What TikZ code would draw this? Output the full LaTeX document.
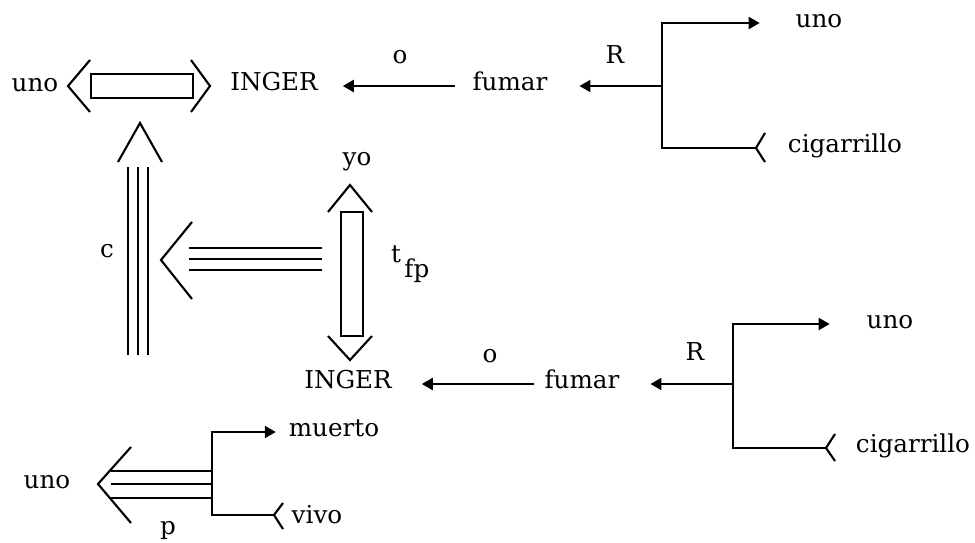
\documentclass[tikz,border=0pt]{standalone}
\usepackage{fontspec}
\setmainfont{DejaVu Serif}
\usetikzlibrary{arrows.meta}

\begin{document}
\begin{tikzpicture}[x=0.01cm,y=-0.01cm,line width=0.6pt,
  lbl/.style={inner sep=0pt,font=\fontsize{7}{8}\selectfont,text height=2.8pt,text depth=0.5pt},
  arr/.style={-{Triangle[length=1.1mm,width=1.2mm]}}]
  \useasboundingbox (0,0) rectangle (975,542);
  % upper line: uno <=> INGER <- fumar
  \node[lbl] (uno1) at (35,87) {uno};
  \node[lbl] (inger1) at (274,86) {INGER};
  \node[lbl] (o1) at (400,59) {o};
  \node[lbl] (fumar1) at (510,86) {fumar};
  \node[lbl] (r1) at (615,59) {R};
  \node[lbl] (uno2) at (819,23) {uno};
  \node[lbl] (cig1) at (845,148) {cigarrillo};
  \coordinate (b1) at (662,86);
  \coordinate (t1) at (662,23);
  \coordinate (k1) at (662,148);
  \coordinate (f1) at (756,148);
  \draw (90,60) -- (68,86) -- (90,112);
  \draw (91,74) rectangle (193,98);
  \draw (191,60) -- (210,86) -- (191,112);
  \draw[arr,shorten <=1.7mm,shorten >=2.4mm] (fumar1) -- (inger1);
  \draw[arr,shorten >=3.1mm] (b1) -- (fumar1);
  \draw[arr,shorten >=3.5mm] (f1) -- (k1) -- (t1) -- (uno2);
  \draw (f1) -- ++(9,-15) (f1) -- ++(9,14);
  % causal link
  \draw (118,162) -- (140,123) -- (162,162);
  \foreach \x in {128,138,148}
    \draw (\x,167) -- (\x,355);
  \node[lbl] (c) at (107,253) {c};
  \draw (192,222) -- (161,260) -- (192,299);
  \foreach \y in {248,259,270}
    \draw (189,\y) -- (322,\y);
  % yo <=> INGER
  \node[lbl] (yo) at (357,161) {yo};
  \node[lbl,anchor=base west] (tfp) at (390,262) {t\kern1pt\raisebox{-4.3pt}{fp}};
  \draw (328,212) -- (350,185) -- (372,212);
  \draw (341,212) rectangle (363,336);
  \draw (328,336) -- (350,360) -- (372,336);
  % lower line: INGER <- fumar
  \node[lbl] (inger2) at (348,384) {INGER};
  \node[lbl] (o2) at (490,358) {o};
  \node[lbl] (fumar2) at (582,384) {fumar};
  \node[lbl] (r2) at (695,356) {R};
  \node[lbl] (uno3) at (890,324) {uno};
  \node[lbl] (cig2) at (913,448) {cigarrillo};
  \coordinate (b2) at (733,384);
  \coordinate (t2) at (733,324);
  \coordinate (k2) at (733,448);
  \coordinate (f2) at (826,448);
  \draw[arr,shorten <=1mm,shorten >=2.9mm] (fumar2) -- (inger2);
  \draw[arr,shorten >=3mm] (b2) -- (fumar2);
  \draw[arr,shorten >=3.6mm] (f2) -- (k2) -- (t2) -- (uno3);
  \draw (f2) -- ++(9,-14) (f2) -- ++(9,13);
  % uno <=p muerto / vivo
  \node[lbl] (uno4) at (47,484) {uno};
  \node[lbl] (muerto) at (334,432) {muerto};
  \node[lbl] (vivo) at (317,519) {vivo};
  \node[lbl] (p) at (168,530) {p};
  \coordinate (t3) at (212,432);
  \coordinate (k3) at (212,515);
  \coordinate (f3) at (274,515);
  \draw (131,447) -- (98,484) -- (131,523);
  \foreach \y in {471,484,498}
    \draw (111,\y) -- (212,\y);
  \draw[arr,shorten >=1.2mm] (f3) -- (k3) -- (t3) -- (muerto);
  \draw (f3) -- ++(9,-12) (f3) -- ++(9,14);
\end{tikzpicture}
\end{document}
